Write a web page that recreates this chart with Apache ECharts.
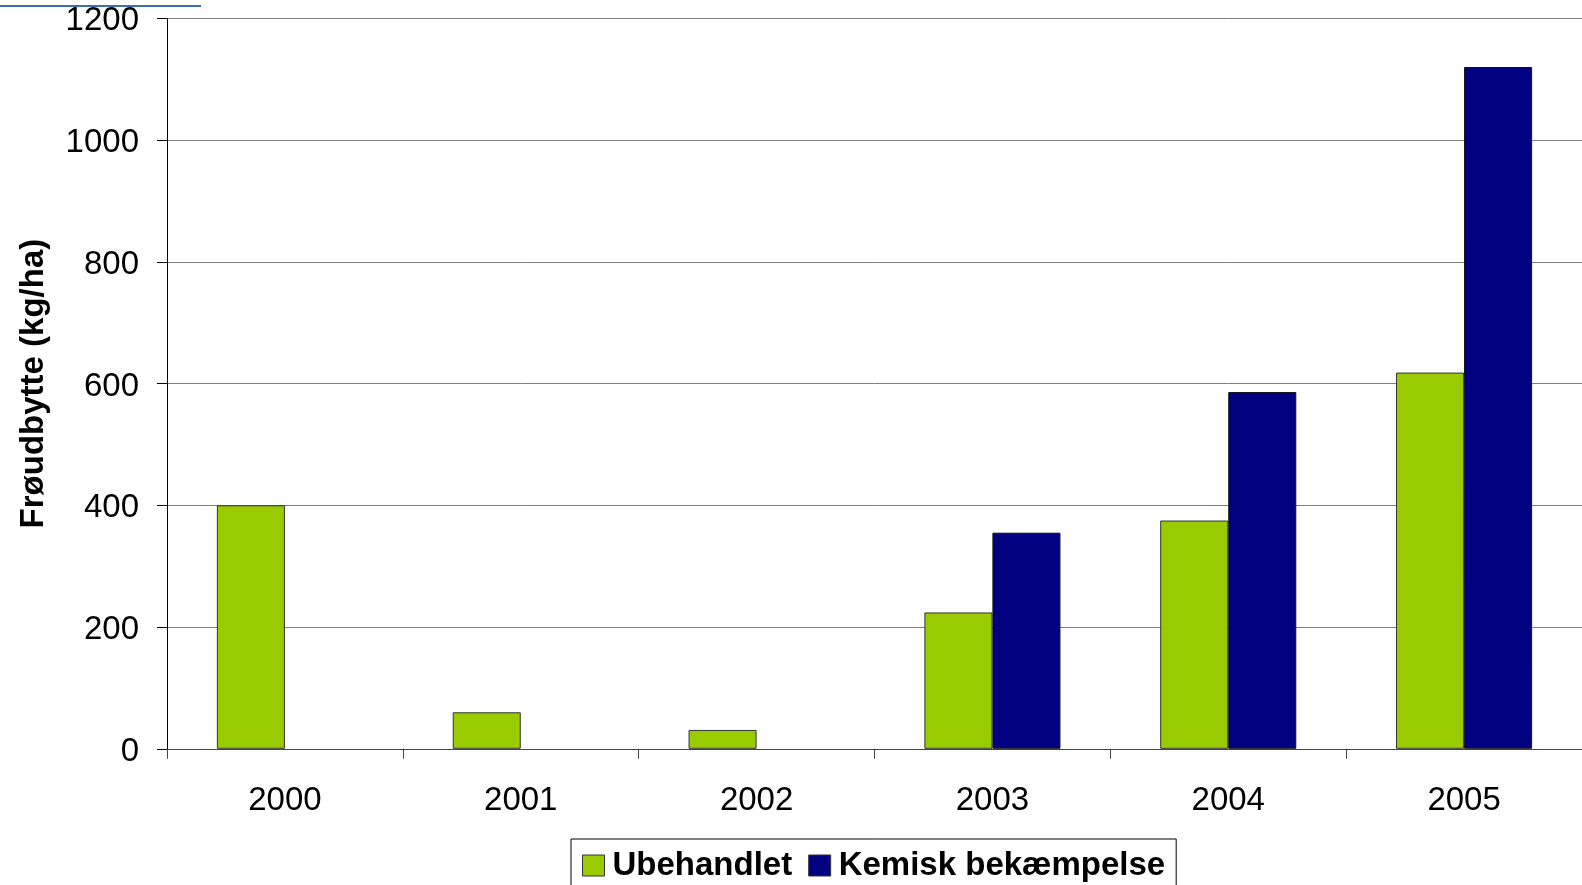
<!DOCTYPE html>
<html>
<head>
<meta charset="utf-8">
<script src="https://cdn.jsdelivr.net/npm/echarts@6/dist/echarts.min.js"></script>
<style>
html,body{margin:0;padding:0;background:#fff;}
#chart{width:1582px;height:885px;}
</style>
</head>
<body>
<div id="chart"></div>
<script>
const categories = ['2000', '2001', '2002', '2003', '2004', '2005'];
const ubehandlet = [400, 60, 31, 224, 375, 618];
const kemisk = [null, null, null, 355, 586, 1120];
const seriesNames = ['Ubehandlet', 'Kemisk bekæmpelse'];
const yAxisTitle = 'Frøudbytte (kg/ha)';

const FONT = '"Liberation Sans", Arial, sans-serif';
const chart = echarts.init(document.getElementById('chart'), null, {renderer: 'canvas'});
chart.setOption({
  animation: false,
  backgroundColor: '#fff',
  grid: {left: 167, right: 0, top: 18.3, bottom: 136.2, containLabel: false},
  graphic: [{
    type: 'line',
    shape: {x1: 0, y1: 6, x2: 201, y2: 6},
    style: {stroke: '#3a6fb7', lineWidth: 2}
  }],
  legend: {
    left: 571, top: 839,
    padding: [10, 11, 10, 11],
    borderColor: '#000', borderWidth: 1,
    itemWidth: 22, itemHeight: 21, itemGap: 16,
    icon: 'rect',
    itemStyle: {borderColor: '#333', borderWidth: 1},
    textStyle: {fontSize: 33, fontWeight: 'bold', color: '#000', fontFamily: FONT, padding: [0, 0, 0, 3]},
    data: seriesNames
  },
  xAxis: {
    type: 'category',
    data: categories,
    axisLine: {show: true, lineStyle: {color: '#444', width: 1}},
    axisTick: {show: true, length: 10, lineStyle: {color: '#444'}},
    axisLabel: {fontSize: 33, color: '#000', fontFamily: FONT, margin: 36},
    splitLine: {show: false}
  },
  yAxis: {
    type: 'value',
    min: 0, max: 1200, interval: 200,
    name: yAxisTitle,
    nameLocation: 'middle',
    nameGap: 117,
    nameTextStyle: {fontSize: 33, fontWeight: 'bold', color: '#000', fontFamily: FONT},
    axisLine: {show: true, lineStyle: {color: '#000', width: 1}},
    axisTick: {show: true, length: 10, lineStyle: {color: '#000'}},
    axisLabel: {fontSize: 33, color: '#000', fontFamily: FONT, margin: 28, verticalAlign: 'top', lineHeight: 6, formatter: function (v) { return String(v); }},
    splitLine: {show: true, lineStyle: {color: '#7f7f7f', width: 1}}
  },
  series: [
    {
      name: seriesNames[0], type: 'bar', data: ubehandlet,
      barGap: '0%', barCategoryGap: '42.3%',
      itemStyle: {color: '#99CC00', borderColor: '#333', borderWidth: 1}
    },
    {
      name: seriesNames[1], type: 'bar', data: kemisk,
      barGap: '0%', barCategoryGap: '42.3%',
      itemStyle: {color: '#000080', borderColor: '#111', borderWidth: 1}
    }
  ]
});
</script>
</body>
</html>
